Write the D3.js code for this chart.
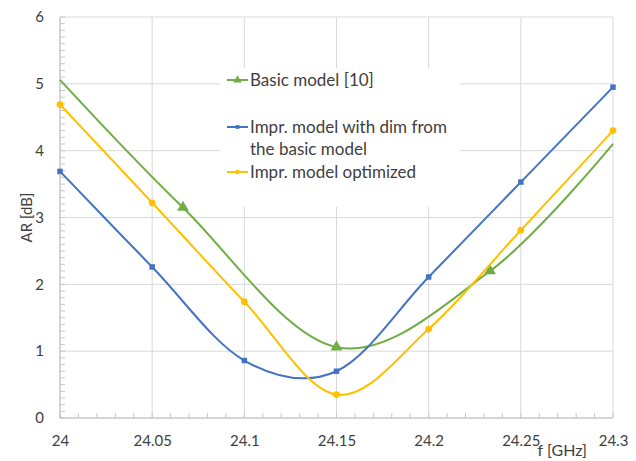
<!DOCTYPE html>
<html lang="en">
<head>
  <meta charset="utf-8">
  <title>AR vs frequency</title>
  <script src="https://d3js.org/d3.v7.min.js"></script>
  <style>
    body { margin: 0; background: #fff; }
    text { font-family: Lato, "Open Sans", sans-serif; fill: #404040; }
    .grid line { stroke: #d9d9d9; stroke-width: 1; }
    .series { fill: none; stroke-width: 2; }
  </style>
</head>
<body>
<script>
// data
var fBlue = [24, 24.05, 24.1, 24.15, 24.2, 24.25, 24.3];
var arBlue = [3.69, 2.26, 0.86, 0.70, 2.11, 3.53, 4.95];
var fOrange = [24, 24.05, 24.1, 24.15, 24.2, 24.25, 24.3];
var arOrange = [4.69, 3.22, 1.74, 0.35, 1.33, 2.81, 4.30];
var fGreen = [24, 24.0667, 24.15, 24.2333, 24.3];
var arGreen = [5.06, 3.15, 1.06, 2.20, 4.10];
var greenMarked = [false, true, true, true, false];

var xTicks = [24, 24.05, 24.1, 24.15, 24.2, 24.25, 24.3];
var yTicks = [0, 1, 2, 3, 4, 5, 6];
var legendLabels = [
  ['Basic model [10]'],
  ['Impr. model with dim from', 'the basic model'],
  ['Impr. model optimized']
];
var colors = {green: '#70ad47', blue: '#4472c4', orange: '#ffc000'};

var W = 636, H = 461;
var margin = {top: 17, right: 23, bottom: 43, left: 60};
var innerW = W - margin.left - margin.right;
var innerH = H - margin.top - margin.bottom;

var x = d3.scaleLinear().domain([24, 24.3]).range([0, innerW]);
var y = d3.scaleLinear().domain([0, 6]).range([innerH, 0]);

var svg = d3.select('body').append('svg')
    .attr('width', W)
    .attr('height', H)
  .append('g')
    .attr('transform', 'translate(' + [margin.left, margin.top] + ')');

// grid
var grid = svg.append('g').attr('class', 'grid');
grid.selectAll('.gx').data(xTicks).enter().append('line')
  .attr('x1', function(d){return x(d);}).attr('x2', function(d){return x(d);})
  .attr('y1', 0).attr('y2', innerH);
grid.selectAll('.gy').data(yTicks).enter().append('line')
  .attr('x1', 0).attr('x2', innerW)
  .attr('y1', function(d){return y(d);}).attr('y2', function(d){return y(d);});

// minor ticks
var xMinor = d3.range(0, 31).map(function(i){return 24 + i * 0.01;});
var yMinor = d3.range(0, 61).map(function(i){return i * 0.1;});
svg.append('g').selectAll('line').data(xMinor).enter().append('line')
  .attr('x1', function(d){return x(d);}).attr('x2', function(d){return x(d);})
  .attr('y1', innerH).attr('y2', innerH - 5)
  .attr('stroke', '#c8c8c8');
svg.append('g').selectAll('line').data(yMinor).enter().append('line')
  .attr('x1', 0).attr('x2', 5)
  .attr('y1', function(d){return y(d);}).attr('y2', function(d){return y(d);})
  .attr('stroke', '#c8c8c8');

// axes lines
svg.append('line').attr('x1', 0).attr('x2', innerW).attr('y1', innerH).attr('y2', innerH).attr('stroke', '#bfbfbf');
svg.append('line').attr('x1', 0).attr('x2', 0).attr('y1', 0).attr('y2', innerH).attr('stroke', '#bfbfbf');

// tick labels
var xAxis = d3.axisBottom(x).tickValues(xTicks).tickSize(0).tickPadding(17)
  .tickFormat(function(d){return String(+d.toFixed(2));});
svg.append('g').attr('transform', 'translate(0,' + innerH + ')').call(xAxis)
  .call(function(g){ g.select('.domain').remove(); g.selectAll('text').style('font-size', '15px').attr('fill', '#404040'); });
var yAxis = d3.axisLeft(y).tickValues(yTicks).tickSize(0).tickPadding(16)
  .tickFormat(d3.format('d'));
svg.append('g').call(yAxis)
  .call(function(g){ g.select('.domain').remove(); g.selectAll('text').style('font-size', '15px').attr('fill', '#404040'); });

// axis titles
svg.append('text')
  .attr('transform', 'translate(' + [-28, innerH / 2] + ') rotate(-90)')
  .attr('text-anchor', 'middle')
  .style('font-size', '15px')
  .text('AR [dB]');
svg.append('text')
  .attr('x', x(24.2725)).attr('y', H - margin.top - 5)
  .attr('text-anchor', 'middle')
  .style('font-size', '16px')
  .text('f [GHz]');

// legend box (covers grid)
var lg = svg.append('g').attr('transform', 'translate(' + [220 - margin.left, 68 - margin.top] + ')');
lg.append('rect').attr('width', 240).attr('height', 139).attr('fill', '#fff');

// series
var line = d3.line()
  .x(function(d){return x(d[0]);})
  .y(function(d){return y(d[1]);})
  .curve(d3.curveCardinal.tension(0));

function drawSeries(fs, vals, color, marker, marked) {
  var pts = fs.map(function(f, i){return [f, vals[i]];});
  svg.append('path').datum(pts).attr('class', 'series')
    .attr('stroke', color).attr('d', line);
  var sym = d3.symbol().type(marker.type).size(marker.size);
  svg.append('g').selectAll('path')
    .data(pts.filter(function(d, i){return !marked || marked[i];}))
    .enter().append('path')
      .attr('transform', function(d){return 'translate(' + [x(d[0]), y(d[1])] + ')';})
      .attr('d', sym)
      .attr('fill', color);
}
drawSeries(fGreen, arGreen, colors.green, {type: d3.symbolTriangle, size: 60}, greenMarked);
drawSeries(fBlue, arBlue, colors.blue, {type: d3.symbolSquare, size: 30});
drawSeries(fOrange, arOrange, colors.orange, {type: d3.symbolCircle, size: 36});

// legend entries
var legendItems = [
  {lines: legendLabels[0], color: colors.green, type: d3.symbolTriangle, size: 30, y: 12},
  {lines: legendLabels[1], color: colors.blue, type: d3.symbolSquare, size: 14, y: 59},
  {lines: legendLabels[2], color: colors.orange, type: d3.symbolCircle, size: 16, y: 104}
];
legendItems.forEach(function(it) {
  var g = lg.append('g').attr('transform', 'translate(0,' + it.y + ')');
  g.append('line').attr('x1', 7).attr('x2', 28).attr('stroke', it.color).attr('stroke-width', 2);
  g.append('path').attr('transform', 'translate(17.5,0)').attr('d', d3.symbol().type(it.type).size(it.size)).attr('fill', it.color);
  it.lines.forEach(function(t, i) {
    g.append('text').attr('x', 30).attr('y', i * 22).attr('dy', '0.35em')
      .style('font-size', '17px').text(t);
  });
});
</script>
</body>
</html>
